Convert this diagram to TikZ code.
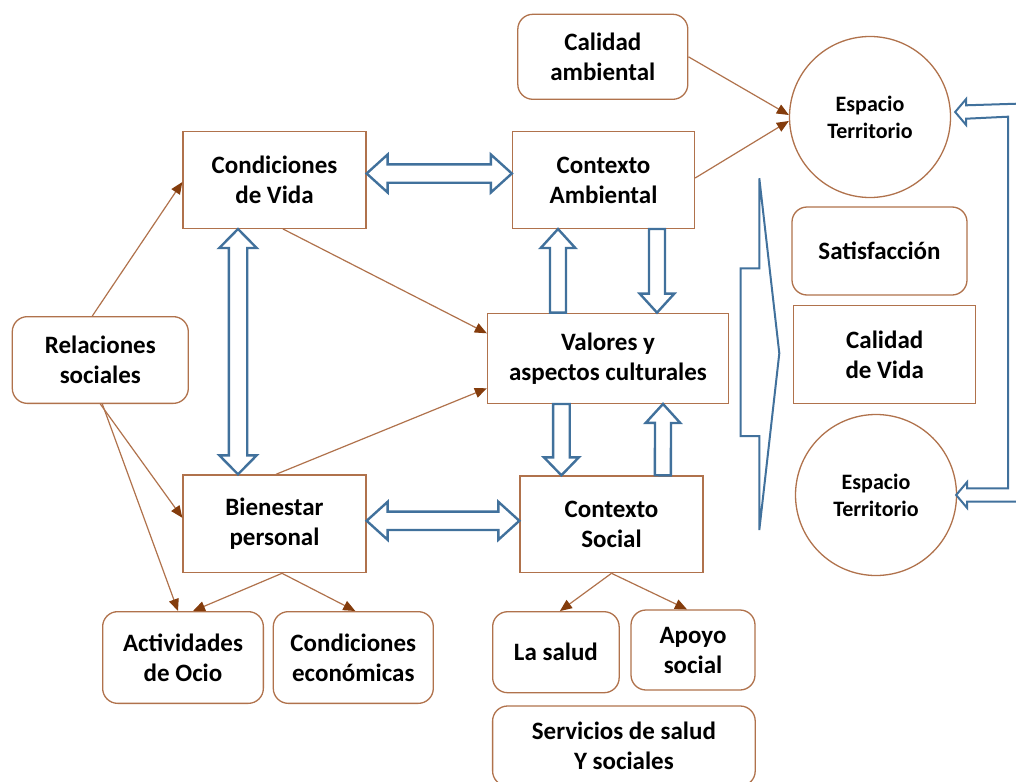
\documentclass[tikz,border=0pt]{standalone}
\usepackage{fontspec}
\setmainfont{Carlito}
\usetikzlibrary{calc,arrows.meta}
\definecolor{boxbrown}{RGB}{176,114,76}
\definecolor{tipbrown}{RGB}{132,60,12}
\definecolor{blueline}{RGB}{65,113,156}
\tikzset{
  box/.style={draw=boxbrown, line width=1.3pt, fill=white, inner sep=0pt, align=center,
    font=\bfseries\fontsize{25}{30}\selectfont, text=black},
  rbox/.style={box, rounded corners=15pt},
  circ/.style={box, circle, minimum size=161pt, font=\bfseries\fontsize{22}{27}\selectfont},
  conn/.style={draw=boxbrown, line width=1.2pt, -{Triangle[length=12pt,width=10pt,color=tipbrown]}},
  hollow/.style={draw=blueline, line width=2.4pt, fill=white, line join=miter},
}
% double hollow arrow: #1 start, #2 end, #3 shaft half width, #4 head half width, #5 head length
\newcommand\hollowdbl[5]{%
  \coordinate (ha) at #1; \coordinate (hb) at #2;
  \coordinate (h1) at ($(ha)!#5!(hb)$);
  \coordinate (h2) at ($(hb)!#5!(ha)$);
  \draw[hollow] (ha) -- ($(h1)!#4!90:(hb)$) -- ($(h1)!#3!90:(hb)$) -- ($(h2)!#3!90:(hb)$)
    -- ($(h2)!#4!90:(hb)$) -- (hb) -- ($(h2)!#4!-90:(hb)$) -- ($(h2)!#3!-90:(hb)$)
    -- ($(h1)!#3!-90:(hb)$) -- ($(h1)!#4!-90:(hb)$) -- cycle;}
% single hollow arrow
\newcommand\hollowone[5]{%
  \coordinate (ha) at #1; \coordinate (hb) at #2;
  \coordinate (h2) at ($(hb)!#5!(ha)$);
  \draw[hollow] ($(ha)!#3!90:(hb)$) -- ($(h2)!#3!90:(hb)$) -- ($(h2)!#4!90:(hb)$) -- (hb)
    -- ($(h2)!#4!-90:(hb)$) -- ($(h2)!#3!-90:(hb)$) -- ($(ha)!#3!-90:(hb)$) -- cycle;}
\begin{document}
\begin{tikzpicture}[x=1pt,y=-1pt]
\clip (0,0) rectangle (1016,781);
\fill[white] (0,0) rectangle (1016,781);

% nodes
\node[rbox, minimum width=170pt, minimum height=85pt] (calamb) at (602.8,56.8) {Calidad\\ambiental};
\node[circ] (esp1) at (870,117) {Espacio\\Territorio};
\node[box, minimum width=183pt, minimum height=96.7pt] (condv) at (274.5,180) {Condiciones\\de Vida};
\node[box, minimum width=182pt, minimum height=96.7pt] (ctxamb) at (603.5,180) {Contexto\\Ambiental};
\node[rbox, minimum width=175pt, minimum height=88pt] (satis) at (879.5,251) {Satisfacción};
\node[box, minimum width=182pt, minimum height=97.6pt] (calvida) at (884.7,354.5) {Calidad\\de Vida};
\node[box, minimum width=241pt, minimum height=90pt] (valores) at (608,358.3) {Valores y\\aspectos culturales};
\node[rbox, minimum width=176pt, minimum height=86.7pt] (relsoc) at (100.3,360) {Relaciones\\sociales};
\node[box, minimum width=183pt, minimum height=97.7pt] (bien) at (274.5,523.8) {Bienestar\\personal};
\node[box, minimum width=183pt, minimum height=96.7pt] (ctxsoc) at (611.5,524.3) {Contexto\\Social};
\node[circ] (esp2) at (876,495) {Espacio\\Territorio};
\node[rbox, minimum width=160.7pt, minimum height=91.7pt] (activ) at (183,657.5) {Actividades\\de Ocio};
\node[rbox, minimum width=160pt, minimum height=91.7pt] (condec) at (353.3,657.5) {Condiciones\\económicas};
\node[rbox, minimum width=126.5pt, minimum height=81pt] (salud) at (555.9,652.2) {La salud};
\node[rbox, minimum width=124pt, minimum height=80pt] (apoyo) at (693,650) {Apoyo\\social};
\node[rbox, minimum width=262.6pt, minimum height=80pt] (serv) at (623.9,746) {Servicios de salud\\Y sociales};

% brown connectors
\draw[conn] ($(relsoc.north)+(-8,0)$) -- ($(condv.west)+(0,2)$);
\draw[conn] ($(condv.south)+(8.5,0)$) -- ($(valores.west)+(0,-25)$);
\draw[conn] ($(bien.north)+(1.5,0)$) -- ($(valores.west)+(0,30)$);
\draw[conn] (relsoc.south) -- ($(bien.west)+(0,-6)$);
\draw[conn] ($(relsoc.south)+(2,0)$) -- ($(activ.north)+(-5,0)$);
\draw[conn] ($(bien.south)+(7.5,0)$) -- ($(activ.north)+(10,0)$);
\draw[conn] ($(bien.south)+(7.5,0)$) -- ($(condec.north)+(2,0)$);
\draw[conn] (ctxsoc.south) -- ($(salud.north)+(4,0)$);
\draw[conn] (ctxsoc.south) -- ($(apoyo.north)+(-6,0)$);
\draw[conn] (calamb.east) -- ($(esp1.west)+(0,-2)$);
\draw[conn] ($(ctxamb.east)+(0,-2)$) -- ($(esp1.west)+(0,4)$);

% blue hollow arrows
\hollowdbl{($(condv.east)+(0,-6.5)$)}{($(ctxamb.west)+(0,-6.5)$)}{9.2pt}{19pt}{21pt}
\hollowdbl{($(bien.east)+(0,-3)$)}{($(ctxsoc.west)+(0,-3.5)$)}{9.2pt}{19pt}{21pt}
\hollowdbl{($(condv.south)+(-36.5,0)$)}{($(bien.north)+(-36.5,0)$)}{9.2pt}{18.7pt}{19pt}
\hollowone{($(valores.north)+(-50,0)$)}{($(ctxamb.south)+(-45.5,0)$)}{8pt}{17.3pt}{19pt}
\hollowone{($(ctxamb.south)+(53.5,0)$)}{($(valores.north)+(49,0)$)}{8pt}{17.3pt}{19pt}
\hollowone{($(valores.south)+(-46.6,0)$)}{($(ctxsoc.north)+(-50.1,0)$)}{8.3pt}{17.5pt}{18pt}
\hollowone{($(ctxsoc.north)+(51.4,0)$)}{($(valores.south)+(55,0)$)}{8pt}{17.3pt}{19pt}

% chevron
\draw[hollow, line width=2pt] (759.3,178.3) -- (779.3,353.3) -- (759.3,530) -- (759.3,436)
  -- (740.7,436) -- (740.7,268.3) -- (759.3,268.3) -- cycle;

% right bracket arrow
\coordinate (tip1) at ($(esp1.east)+(4,-5)$);
\coordinate (tip2) at ($(esp2.east)+(-1,0)$);
\draw[hollow, line width=2pt] (1030,103.3) -- ($(tip1)+(11,-6.7)$) -- ($(tip1)+(11,-13)$) -- (tip1)
  -- ($(tip1)+(11,13)$) -- ($(tip1)+(11,6.7)$) -- (1008,116.7) -- (1008,488.3)
  -- ($(tip2)+(11,-6.7)$) -- ($(tip2)+(11,-13)$) -- (tip2) -- ($(tip2)+(11,13)$)
  -- ($(tip2)+(11,6.7)$) -- (1030,501.7);
\end{tikzpicture}
\end{document}
